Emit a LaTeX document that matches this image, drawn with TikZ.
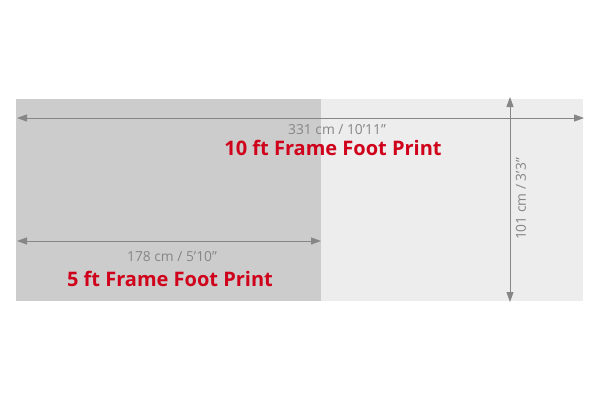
\documentclass[tikz,border=0pt]{standalone}
\usepackage{fontspec}
\setmainfont{Open Sans}
\usetikzlibrary{arrows.meta}
\definecolor{darkbox}{HTML}{CCCCCC}
\definecolor{lightbox}{HTML}{EDEDED}
\definecolor{dimgray}{HTML}{868686}
\definecolor{printred}{HTML}{D0021B}
\tikzset{
  area/.style={draw=none,inner sep=0pt,anchor=north west},
  dimline/.style={draw=dimgray,line width=1pt,{Triangle[length=10pt,width=7pt]}-{Triangle[length=10pt,width=7pt]}},
  dimtext/.style={text=dimgray,font=\fontsize{13.8}{15}\selectfont,inner sep=0pt},
  title/.style={text=printred,font=\fontsize{20}{22}\selectfont\bfseries,inner sep=0pt}
}
\begin{document}
\begin{tikzpicture}[x=1pt,y=-1pt]
\useasboundingbox (0,0) rectangle (600,400);
\fill[white] (0,0) rectangle (600,400);
\node[area,fill=lightbox,minimum width=262pt,minimum height=202pt] (ten) at (321,99) {};
\node[area,fill=darkbox,minimum width=305pt,minimum height=202pt] (five) at (16,99) {};
\coordinate (tl) at (17,118);
\coordinate (tr) at (584,118);
\coordinate (bl) at (17,241);
\coordinate (br) at (321,241);
\coordinate (vt) at (510,97);
\coordinate (vb) at (510,302);
\draw[dimline] (tl) -- (tr);
\draw[dimline] (bl) -- (br);
\draw[dimline] (vt) -- (vb);
\node[dimtext] (w10) at (337,130) {331 cm / 10’11”};
\node[title] (t10) at (333,148) {10 ft Frame Foot Print};
\node[dimtext] (w5) at (172,257) {178 cm / 5’10”};
\node[title] (t5) at (170,279) {5 ft Frame Foot Print};
\node[dimtext,rotate=90] (h) at (521,199) {101 cm / 3’3”};
\end{tikzpicture}
\end{document}
